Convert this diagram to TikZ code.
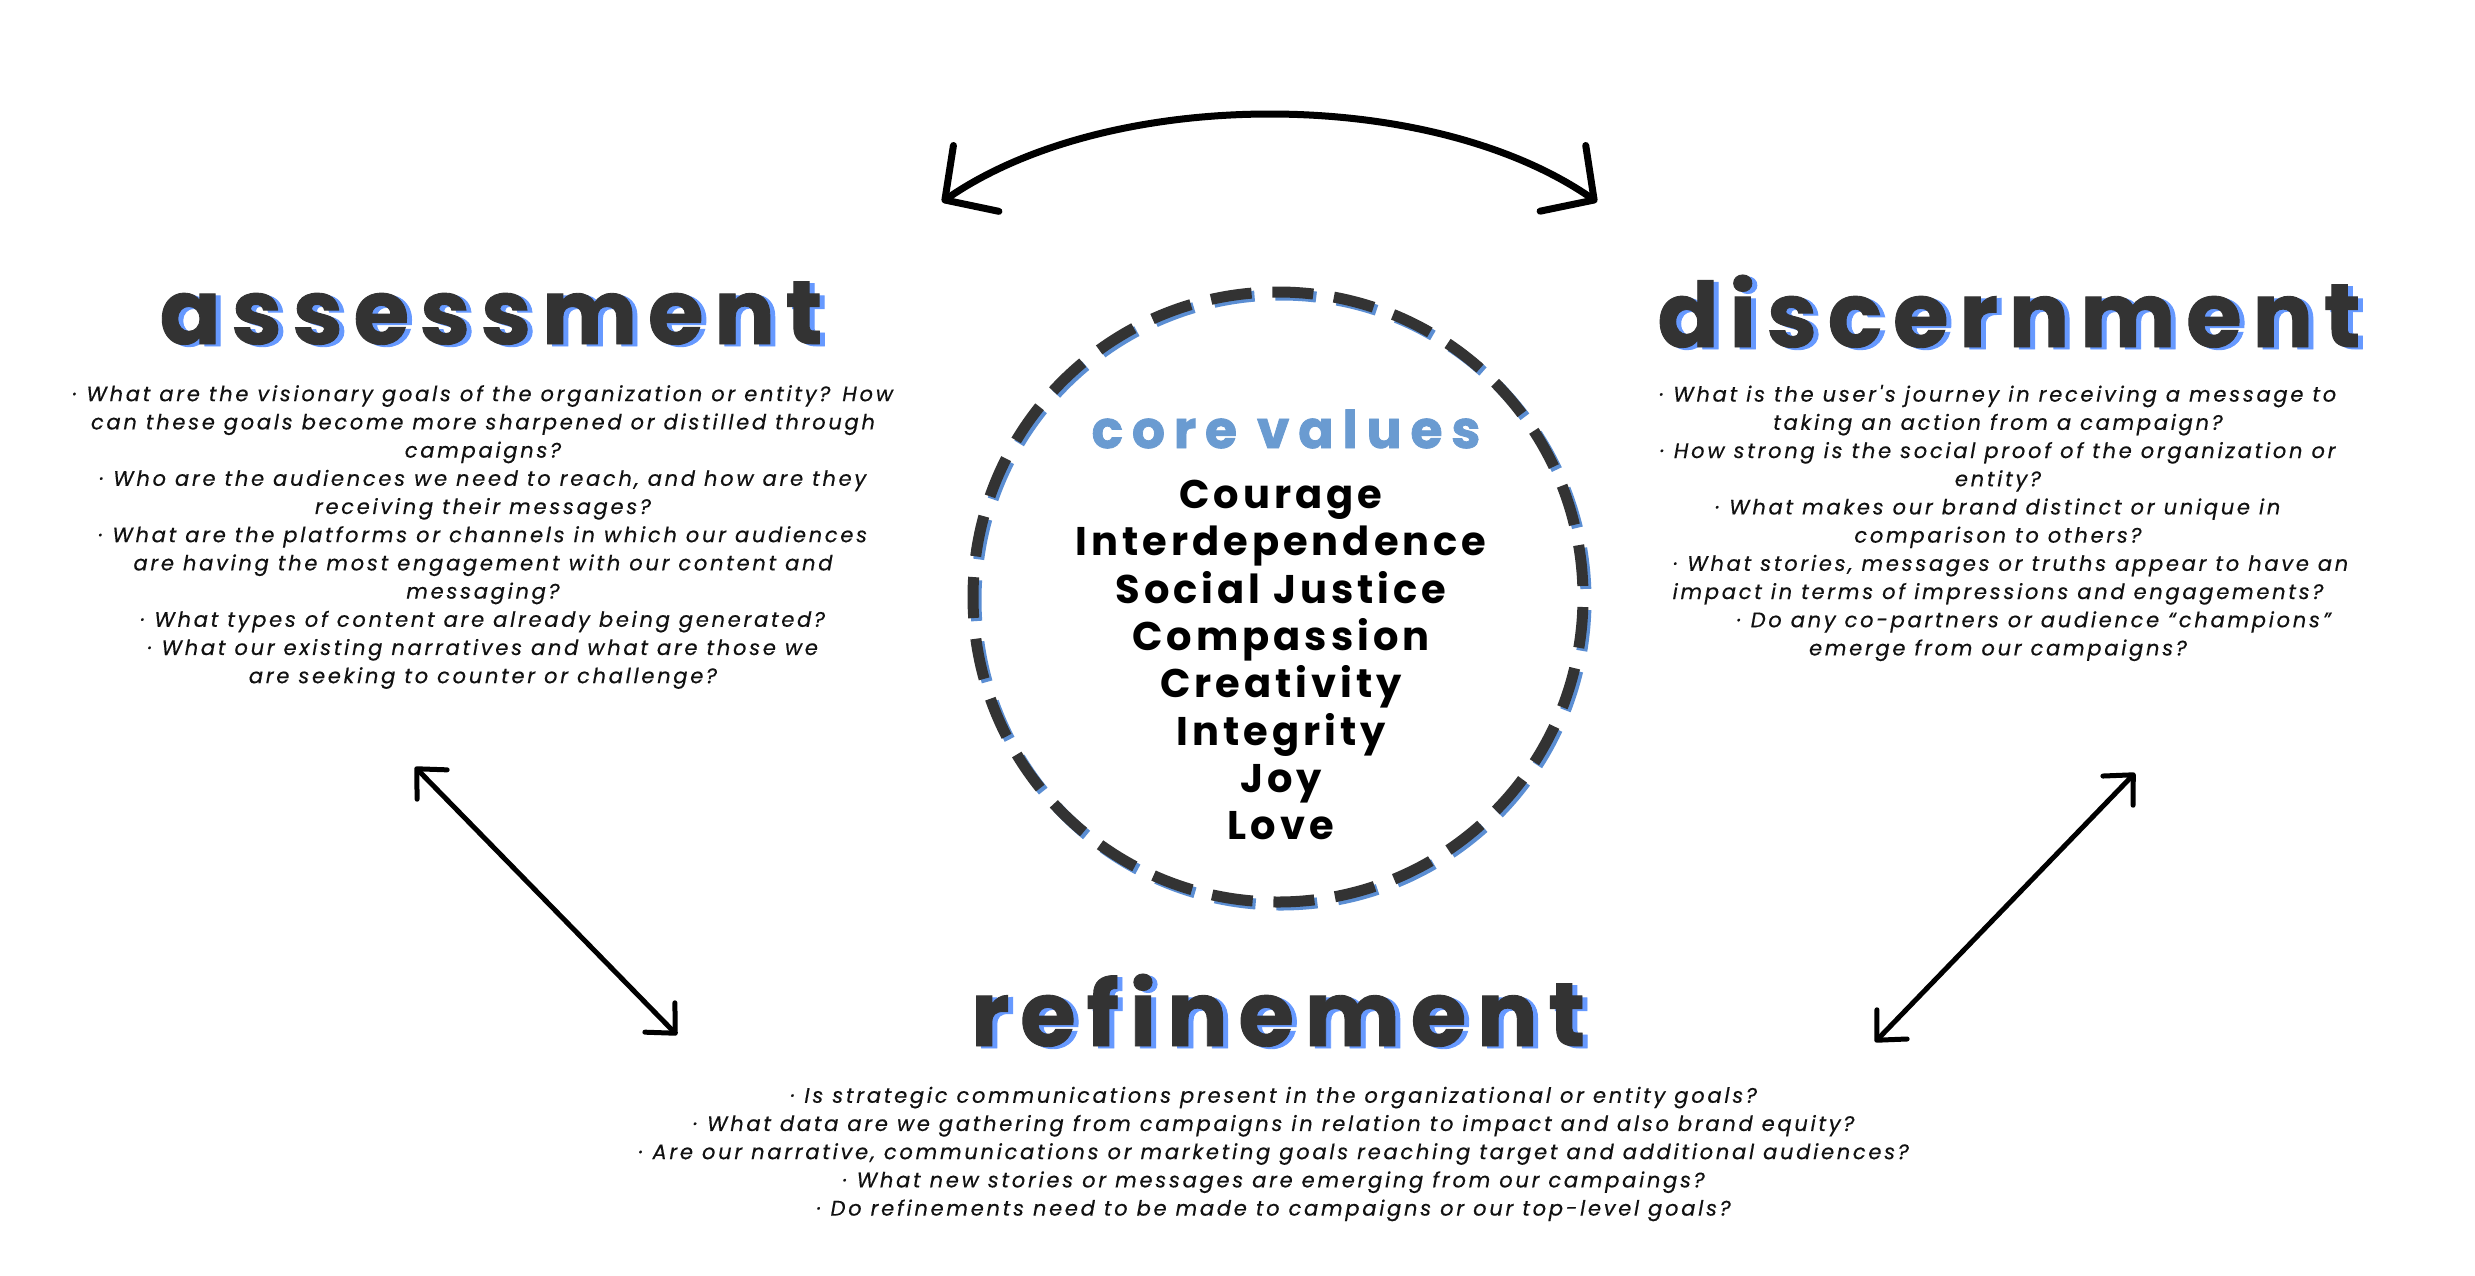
\documentclass[tikz,border=0pt]{standalone}
\usepackage{fontspec}
\setmainfont{Poppins}
\newfontfamily\bodyfont{Poppins}[LetterSpace=13,ItalicFeatures={FakeBold=0.4}]
\newfontfamily\titlefont{Poppins}[LetterSpace=12,BoldFeatures={FakeBold=1}]
\newfontfamily\valfont{Poppins}[LetterSpace=10]
\newfontfamily\corefont{Poppins}[LetterSpace=17,BoldFeatures={FakeBold=1.5}]
\usetikzlibrary{arrows.meta}
\definecolor{ink}{HTML}{333333}
\definecolor{shadowblue}{HTML}{6699FF}
\definecolor{coreblue}{HTML}{6A9BD1}
\definecolor{ringblue}{HTML}{5B8ED3}
\definecolor{txt}{HTML}{111111}
\newcommand\shadowtxt[1]{\makebox[0pt][l]{\hspace*{5pt}\raisebox{-2pt}{\textcolor{shadowblue}{#1}}}#1}
\begin{document}
\begin{tikzpicture}[x=1pt,y=-1pt,
  titletext/.style={font=\titlefont\bfseries\fontsize{90}{90}\selectfont, anchor=base, inner sep=0pt, text=ink},
  bodytext/.style={font=\bodyfont\itshape\fontsize{21}{28.2}\selectfont, align=center, text=txt, inner sep=0pt},
  valtext/.style={font=\valfont\bfseries\fontsize{40}{40}\selectfont, anchor=base, inner sep=0pt, text=black},
  ring/.style={line width=11pt, dash pattern=on 41pt off 20.818pt, dash phase=-10pt},
  bigarrow/.style={line width=7pt, line cap=round, {Straight Barb[length=38pt,width=80pt,line cap=round,line join=round]}-{Straight Barb[length=38pt,width=80pt,line cap=round,line join=round]}},
  diagarrow/.style={line width=5pt, line cap=round, {Straight Barb[length=22pt,width=42pt,line cap=round,line join=round]}-{Straight Barb[length=22pt,width=42pt,line cap=round,line join=round]}}
]
\useasboundingbox[fill=white] (0,0) rectangle (2475,1275);

% titles with blue shadow
\node[titletext] (tA) at (491,344) {\shadowtxt{assessment}};
\node[titletext] (tD) at (2009,347) {\shadowtxt{discernment}};
\node[titletext] (tR) at (1278,1046) {\shadowtxt{refinement}};

% body texts
\node[bodytext] (bA) at (483,537) {%
· What are the visionary goals of the organization or entity? How\\
can these goals become more sharpened or distilled through\\
campaigns?\\
· Who are the audiences we need to reach, and how are they\\
receiving their messages?\\
· What are the platforms or channels in which our audiences\\
are having the most engagement with our content and\\
messaging?\\
· What types of content are already being generated?\\
· What our existing narratives and what are those we\\
are seeking to counter or challenge?};

\node[bodytext] (bD) at (1998,523) {%
· What is the user's journey in receiving a message to\\
taking an action from a campaign?\\
· How strong is the social proof of the organization or\\
entity?\\
· What makes our brand distinct or unique in\\
comparison to others?\\
\hspace*{26pt}· What stories, messages or truths appear to have an\\
impact in terms of impressions and engagements?\\
\hspace*{72pt}· Do any co-partners or audience “champions”\\
emerge from our campaigns?};

\node[bodytext] (bR) at (1274,1154) {%
· Is strategic communications present in the organizational or entity goals?\\
· What data are we gathering from campaigns in relation to impact and also brand equity?\\
· Are our narrative, communications or marketing goals reaching target and additional audiences?\\
· What new stories or messages are emerging from our campaings?\\
· Do refinements need to be made to campaigns or our top-level goals?};

% core values circle
\coordinate (cc) at (1278,597);
\draw[ring, ringblue] (1281,600) circle[radius=305];
\draw[ring, ink] (cc) circle[radius=305];
\node[font=\corefont\bfseries\fontsize{52}{52}\selectfont, text=coreblue, anchor=base, inner sep=0pt] (core) at (1286,448) {core values};
\node[valtext] (v1) at (1281,508) {Courage};
\node[valtext] (v2) at (1281,555) {Interdependence};
\node[valtext] (v3) at (1281,603) {Social Justice};
\node[valtext] (v4) at (1281,650) {Compassion};
\node[valtext] (v5) at (1281,697) {Creativity};
\node[valtext] (v6) at (1281,745) {Integrity};
\node[valtext] (v7) at (1281,792) {Joy};
\node[valtext] (v8) at (1281,839) {Love};

% arrows
\coordinate (a1) at (942,202);
\coordinate (a2) at (1597,202);
\draw[bigarrow] (a1) .. controls (1110,86) and (1430,86) .. (a2);
\coordinate (l1) at (415,767);
\coordinate (l2) at (677,1035);
\draw[diagarrow] (l1) -- (l2);
\coordinate (r1) at (2135,773);
\coordinate (r2) at (1875,1042);
\draw[diagarrow] (r1) -- (r2);
\end{tikzpicture}
\end{document}
